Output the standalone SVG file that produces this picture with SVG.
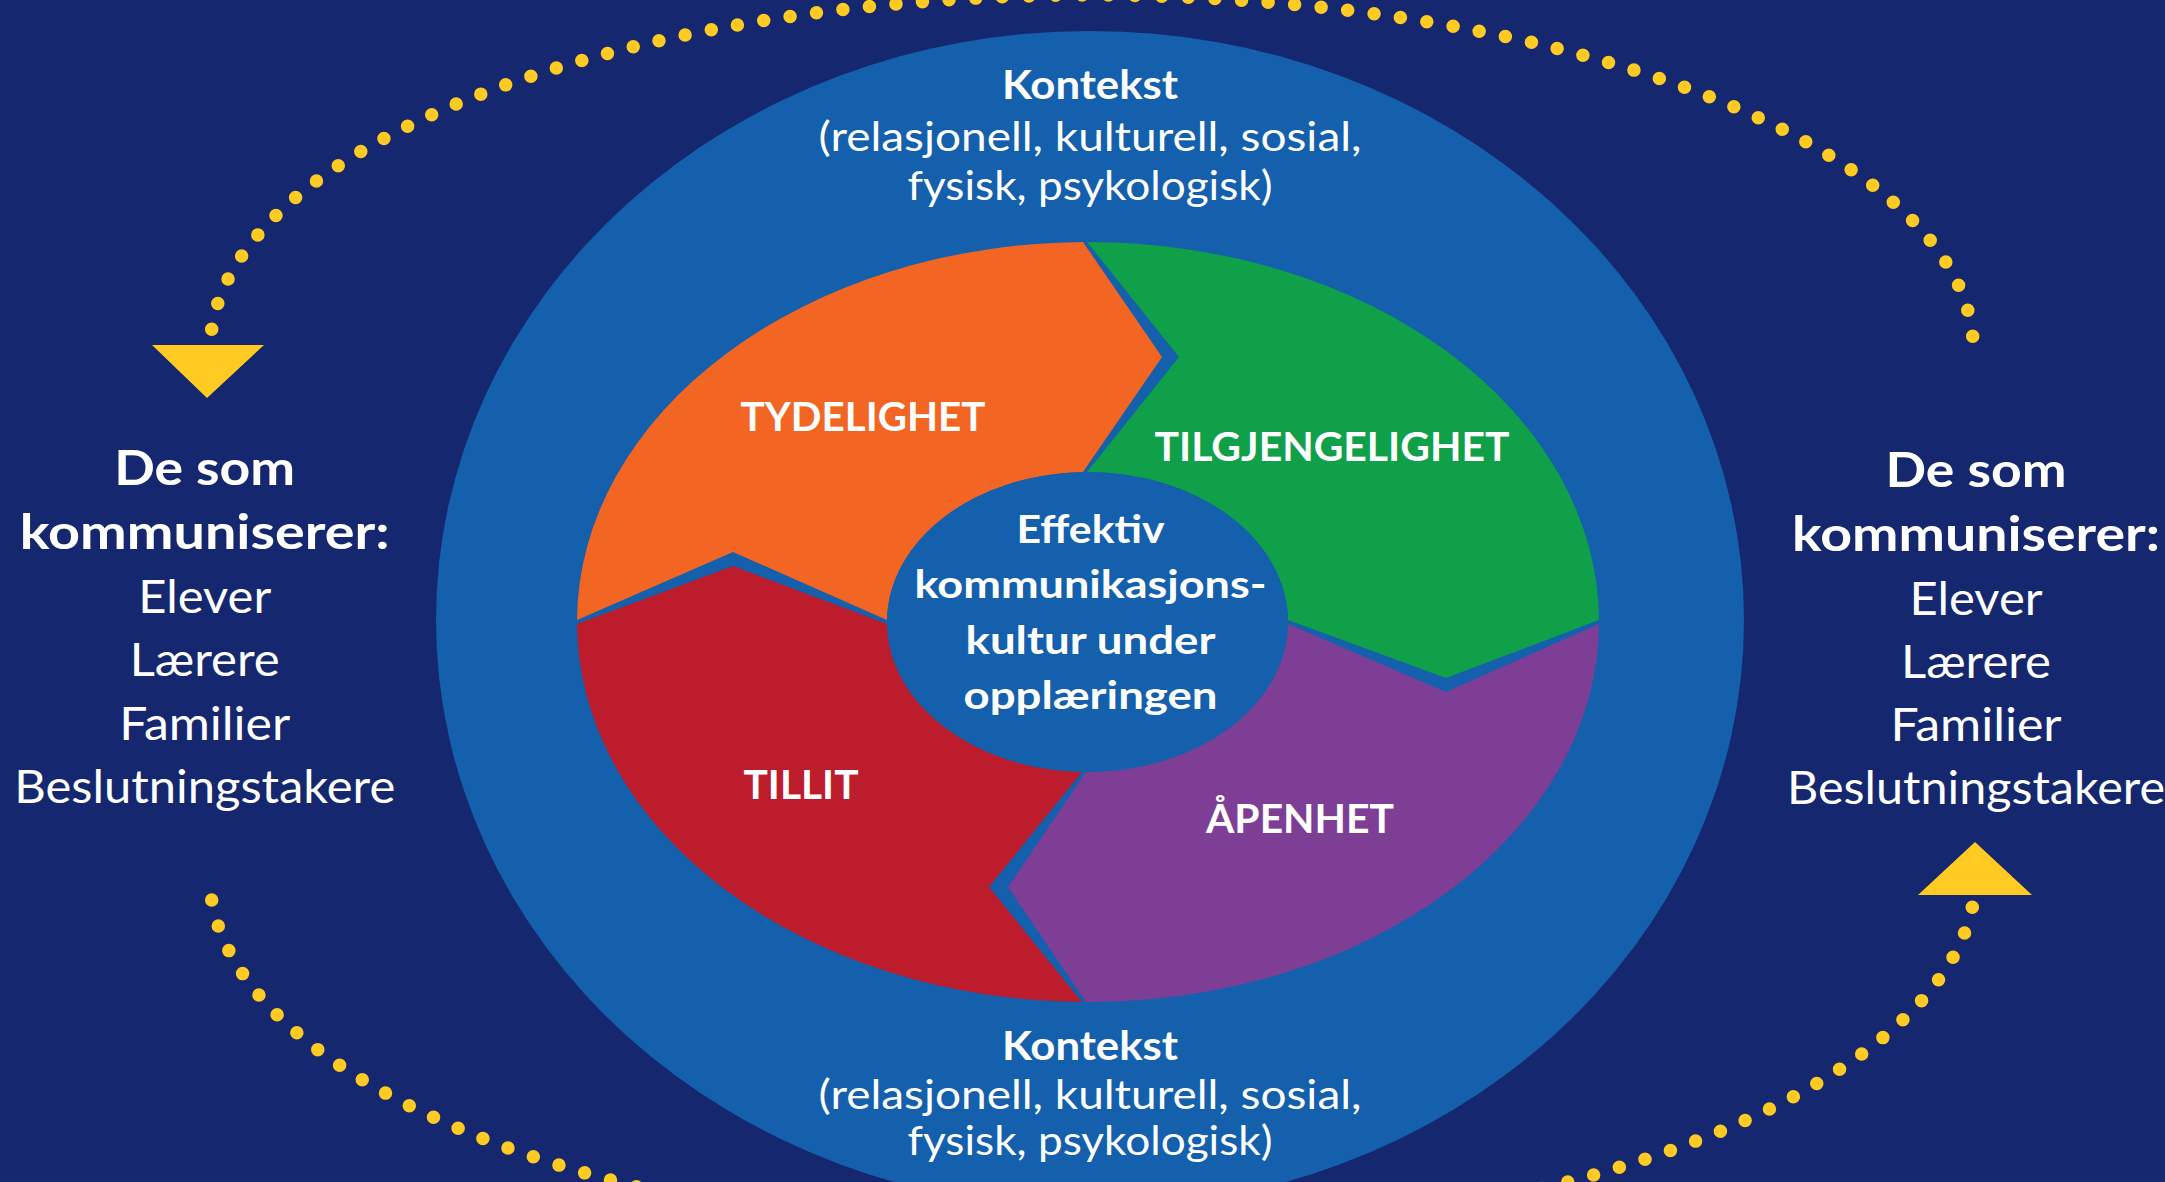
<svg xmlns="http://www.w3.org/2000/svg" width="2165" height="1182" viewBox="0 0 2165 1182">
  <style>
    .t { fill: #ffffff; font-family: "Lato", "Liberation Sans", sans-serif; text-anchor: middle; }
    .b { font-weight: 700; }
    .r { font-weight: 400; }
    .ctx { font-size: 40px; }
    .ctr { font-size: 39px; }
    .lbl { font-size: 40.5px; }
    .sideb { font-size: 47px; }
    .sider { font-size: 46px; }
    .blue { fill: #1460AC; }
    .dots { fill: none; stroke: #FFCA22; stroke-width: 13.5; stroke-linecap: round; }
    .head { fill: #FFCA22; }
  </style>

  <rect id="background" x="0" y="0" width="2165" height="1182" fill="#15286F"/>

  <g id="context">
    <ellipse class="blue" cx="1090" cy="620" rx="654" ry="589"/>
    <text class="t b ctx" x="1090" y="99" textLength="176" lengthAdjust="spacingAndGlyphs">Kontekst</text>
    <text class="t r ctx" x="1090" y="150.5" textLength="543" lengthAdjust="spacingAndGlyphs">(relasjonell, kulturell, sosial,</text>
    <text class="t r ctx" x="1090" y="200" textLength="365" lengthAdjust="spacingAndGlyphs">fysisk, psykologisk)</text>
    <text class="t b ctx" x="1090" y="1059.5" textLength="176" lengthAdjust="spacingAndGlyphs">Kontekst</text>
    <text class="t r ctx" x="1090" y="1109" textLength="543" lengthAdjust="spacingAndGlyphs">(relasjonell, kulturell, sosial,</text>
    <text class="t r ctx" x="1090" y="1154.5" textLength="365" lengthAdjust="spacingAndGlyphs">fysisk, psykologisk)</text>
  </g>

  <g id="tydelighet">
    <path fill="#F26522" d="M1083,242 L1162,357 L1083,472 A200.5,150 0 0 0 887,620 L733,552 L577,620 A511,380 0 0 1 1083,242 Z"/>
    <text class="t b lbl" x="863" y="430.7" textLength="245" lengthAdjust="spacingAndGlyphs">TYDELIGHET</text>
  </g>

  <g id="tilgjengelighet">
    <path fill="#10A049" d="M1087,242 A511,380 0 0 1 1599,620 L1446,678 L1288,620 A200.5,150 0 0 0 1087,472 L1179,357 Z"/>
    <text class="t b lbl" x="1332" y="461" textLength="355" lengthAdjust="spacingAndGlyphs">TILGJENGELIGHET</text>
  </g>

  <g id="apenhet">
    <path fill="#7E3E96" d="M1599,624 A511,380 0 0 1 1086,1002 L1008,887 L1086,772 A200.5,150 0 0 0 1288,624 L1446,692 Z"/>
    <text class="t b lbl" x="1300" y="832.7" textLength="188" lengthAdjust="spacingAndGlyphs">ÅPENHET</text>
  </g>

  <g id="tillit">
    <path fill="#BC1C2C" d="M1082,1002 A511,380 0 0 1 577,624 L733,566 L887,624 A200.5,150 0 0 0 1082,772 L989,887 Z"/>
    <text class="t b lbl" x="801" y="799" textLength="115" lengthAdjust="spacingAndGlyphs">TILLIT</text>
  </g>

  <g id="center">
    <ellipse class="blue" cx="1087.5" cy="622" rx="200.5" ry="150"/>
    <text class="t b ctr" x="1090.5" y="543" textLength="148" lengthAdjust="spacingAndGlyphs">Effektiv</text>
    <text class="t b ctr" x="1090.5" y="598" textLength="352" lengthAdjust="spacingAndGlyphs">kommunikasjons-</text>
    <text class="t b ctr" x="1090.5" y="654" textLength="250" lengthAdjust="spacingAndGlyphs">kultur under</text>
    <text class="t b ctr" x="1090.5" y="709" textLength="254" lengthAdjust="spacingAndGlyphs">opplæringen</text>
  </g>

  <g id="communicators-left">
    <text class="t b sideb" x="204.7" y="485.3" textLength="181" lengthAdjust="spacingAndGlyphs">De som</text>
    <text class="t b sideb" x="204.7" y="549.2" textLength="370" lengthAdjust="spacingAndGlyphs">kommuniserer:</text>
    <text class="t r sider" x="204.7" y="612.6" textLength="133" lengthAdjust="spacingAndGlyphs">Elever</text>
    <text class="t r sider" x="204.7" y="675.8" textLength="150" lengthAdjust="spacingAndGlyphs">Lærere</text>
    <text class="t r sider" x="204.7" y="739.7" textLength="171" lengthAdjust="spacingAndGlyphs">Familier</text>
    <text class="t r sider" x="204.7" y="803.2" textLength="381" lengthAdjust="spacingAndGlyphs">Beslutningstakere</text>
  </g>

  <g id="communicators-right">
    <text class="t b sideb" x="1976" y="486.8" textLength="181" lengthAdjust="spacingAndGlyphs">De som</text>
    <text class="t b sideb" x="1976" y="551" textLength="368" lengthAdjust="spacingAndGlyphs">kommuniserer:</text>
    <text class="t r sider" x="1976" y="614.5" textLength="133" lengthAdjust="spacingAndGlyphs">Elever</text>
    <text class="t r sider" x="1976" y="677.7" textLength="150" lengthAdjust="spacingAndGlyphs">Lærere</text>
    <text class="t r sider" x="1976" y="740.8" textLength="171" lengthAdjust="spacingAndGlyphs">Familier</text>
    <text class="t r sider" x="1976" y="804" textLength="378" lengthAdjust="spacingAndGlyphs">Beslutningstakere</text>
  </g>

  <g id="connectors">
    <path class="dots" pathLength="1000" stroke-dasharray="0 13.3333" d="M211.7,329.3 A882,355 0 0 1 1092,-5 A882,355 0 0 1 1972.7,336.3"/>
    <polygon class="head" points="152,345 264,345 207,398"/>
    <path class="dots" pathLength="1000" stroke-dasharray="0 13.5135" d="M211.7,900 A882,364 0 0 0 1091.5,1239 A882,364 0 0 0 1972.3,907.3"/>
    <polygon class="head" points="1918,895 2032,895 1975,842"/>
  </g>
</svg>
